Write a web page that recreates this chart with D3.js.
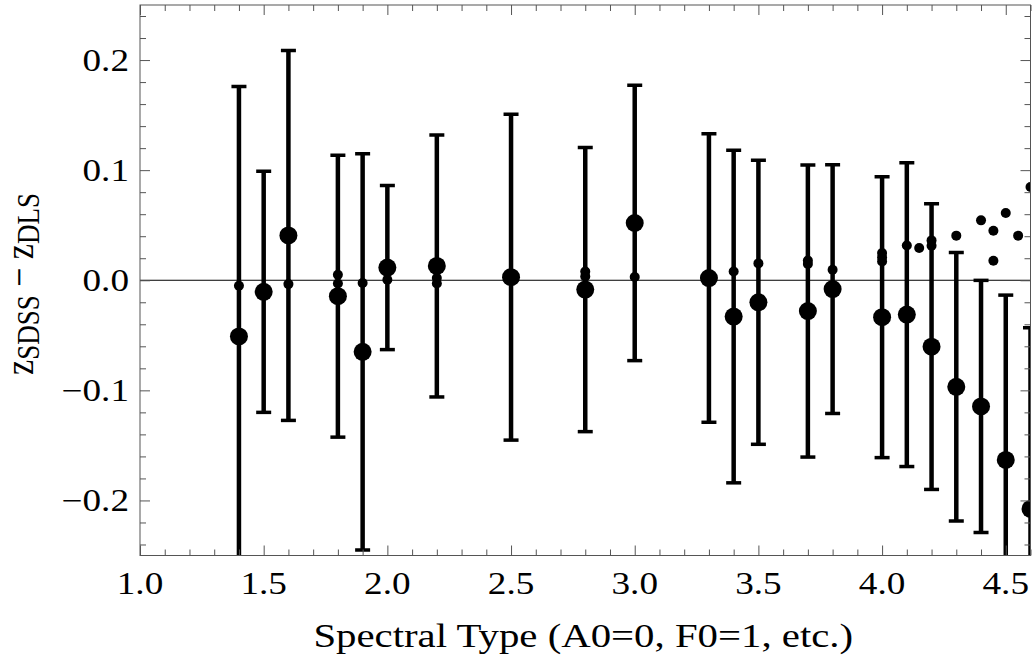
<!DOCTYPE html>
<html>
<head>
<meta charset="utf-8">
<script src="https://cdn.jsdelivr.net/npm/d3@7"></script>
<style>
  body { margin: 0; background: #fff; }
  svg { display: block; font-family: "Liberation Serif", "Times New Roman", serif; }
</style>
</head>
<body>
<div id="chart"></div>
<script>
// binned mean differences with error bars (big dots)
var specType = [1.4, 1.5, 1.6, 1.8, 1.9, 2.0, 2.2, 2.5, 2.8, 3.0, 3.3, 3.4, 3.5, 3.7, 3.8, 4.0, 4.1, 4.2, 4.3, 4.4, 4.5, 4.6];
var meanDiff = [-0.051, -0.0105, 0.0407, -0.0145, -0.065, 0.0115, 0.013, 0.0028, -0.0085, 0.052, 0.002, -0.033, -0.020, -0.028, -0.008, -0.0335, -0.0312, -0.0603, -0.0968, -0.1146, -0.1632, -0.2077];
var errDiff = [0.227, 0.1095, 0.168, 0.128, 0.180, 0.0745, 0.119, 0.148, 0.129, 0.125, 0.131, 0.151, 0.129, 0.1326, 0.113, 0.1276, 0.138, 0.1297, 0.1219, 0.1145, 0.1497, 0.1645];

// individual objects (small dots)
var singleType = [1.4, 1.6, 1.8, 1.8, 1.9, 2.0, 2.2, 2.2, 2.8, 2.8, 3.0, 3.4, 3.5, 3.7, 3.7, 3.8, 4.0, 4.0, 4.0, 4.1, 4.15, 4.2, 4.2, 4.3, 4.4, 4.45, 4.45, 4.5, 4.55, 4.6];
var singleDiff = [-0.005, -0.0035, 0.005, -0.003, -0.0025, 0.0005, 0.002, -0.003, 0.008, 0.0035, 0.003, 0.008, 0.0153, 0.018, 0.0147, 0.0095, 0.0247, 0.0207, 0.017, 0.0316, 0.0293, 0.0362, 0.0314, 0.0405, 0.0544, 0.045, 0.0177, 0.0611, 0.0405, 0.0847];

var xMajor = [1.0, 1.5, 2.0, 2.5, 3.0, 3.5, 4.0, 4.5];
var yMajor = [-0.2, -0.1, 0.0, 0.1, 0.2];

var W = 1032, H = 668;
var pLeft = 140, pRight = 1030.5, pTop = 5, pBottom = 555.5;
var stretch = 1.2; // reference text is wider than it is tall

var svg = d3.select("#chart").append("svg")
    .attr("width", W)
    .attr("height", H);

var x = d3.scaleLinear().domain([1, 4.6]).range([pLeft, pRight]);
var y = d3.scaleLinear().domain([-0.25, 0.25]).range([pBottom, pTop]);

// minor tick values
var xMinor = d3.range(10, 47).map(function(d) { return d / 10; })
    .filter(function(d) { return Math.abs(d * 2 - Math.round(d * 2)) > 1e-6; });
var yMinor = d3.range(-12, 13).map(function(d) { return d / 50; })
    .filter(function(d) { return Math.abs(d * 10 - Math.round(d * 10)) > 1e-6; });

svg.append("clipPath").attr("id", "plotclip")
  .append("rect")
    .attr("x", pLeft).attr("y", pTop)
    .attr("width", pRight - pLeft).attr("height", pBottom - pTop);

var plot = svg.append("g").attr("clip-path", "url(#plotclip)");

// zero line
plot.append("line")
    .attr("x1", pLeft).attr("x2", pRight)
    .attr("y1", y(0)).attr("y2", y(0))
    .attr("stroke", "#000").attr("stroke-width", 1);

// error bars
var bars = plot.selectAll(".ebar")
    .data(specType)
    .enter().append("g")
    .attr("class", "ebar");

bars.append("line")
    .attr("x1", function(d) { return x(d); })
    .attr("x2", function(d) { return x(d); })
    .attr("y1", function(d, i) { return y(meanDiff[i] + errDiff[i]); })
    .attr("y2", function(d, i) { return y(meanDiff[i] - errDiff[i]); })
    .attr("stroke", "#000").attr("stroke-width", 4.5);

[1, -1].forEach(function(s) {
  bars.append("line")
      .attr("x1", function(d) { return x(d) - 7.5; })
      .attr("x2", function(d) { return x(d) + 7.5; })
      .attr("y1", function(d, i) { return y(meanDiff[i] + s * errDiff[i]); })
      .attr("y2", function(d, i) { return y(meanDiff[i] + s * errDiff[i]); })
      .attr("stroke", "#000").attr("stroke-width", 3.5);
});

// big dots
plot.selectAll(".mean")
    .data(specType)
    .enter().append("circle")
    .attr("class", "mean")
    .attr("cx", function(d) { return x(d); })
    .attr("cy", function(d, i) { return y(meanDiff[i]); })
    .attr("r", 9)
    .attr("fill", "#000");

// small dots
plot.selectAll(".single")
    .data(singleType)
    .enter().append("circle")
    .attr("class", "single")
    .attr("cx", function(d) { return x(d); })
    .attr("cy", function(d, i) { return y(singleDiff[i]); })
    .attr("r", 5)
    .attr("fill", "#000");

// frame with inward ticks on all sides
var frameCol = "#555";
function styleAxis(g) {
  g.select(".domain").remove();
  g.selectAll(".tick line").attr("stroke", frameCol);
  g.selectAll("text").remove();
}

svg.append("g").attr("transform", "translate(0," + pBottom + ")")
    .call(d3.axisBottom(x).tickValues(xMajor).tickSize(-10)).call(styleAxis);
svg.append("g").attr("transform", "translate(0," + pBottom + ")")
    .call(d3.axisBottom(x).tickValues(xMinor).tickSize(-6)).call(styleAxis);
svg.append("g").attr("transform", "translate(0," + pTop + ")")
    .call(d3.axisTop(x).tickValues(xMajor).tickSize(-10)).call(styleAxis);
svg.append("g").attr("transform", "translate(0," + pTop + ")")
    .call(d3.axisTop(x).tickValues(xMinor).tickSize(-6)).call(styleAxis);
svg.append("g").attr("transform", "translate(" + pLeft + ",0)")
    .call(d3.axisLeft(y).tickValues(yMajor).tickSize(-10)).call(styleAxis);
svg.append("g").attr("transform", "translate(" + pLeft + ",0)")
    .call(d3.axisLeft(y).tickValues(yMinor).tickSize(-6)).call(styleAxis);
svg.append("g").attr("transform", "translate(" + pRight + ",0)")
    .call(d3.axisRight(y).tickValues(yMajor).tickSize(-10)).call(styleAxis);
svg.append("g").attr("transform", "translate(" + pRight + ",0)")
    .call(d3.axisRight(y).tickValues(yMinor).tickSize(-6)).call(styleAxis);

svg.append("rect")
    .attr("x", pLeft).attr("y", pTop)
    .attr("width", pRight - pLeft).attr("height", pBottom - pTop)
    .attr("fill", "none").attr("stroke", frameCol).attr("stroke-width", 1);

// tick labels
var fmt = function(v) { return d3.format(".1f")(v).replace("-", "\u2212"); };

svg.selectAll(".xlab")
    .data(xMajor)
    .enter().append("text")
    .attr("class", "xlab")
    .attr("transform", function(d) { return "translate(" + x(d) + ",594) scale(" + stretch + ",1)"; })
    .attr("text-anchor", "middle")
    .attr("font-size", 31)
    .attr("fill", "#000")
    .text(fmt);

svg.selectAll(".ylab")
    .data(yMajor)
    .enter().append("text")
    .attr("class", "ylab")
    .attr("transform", function(d) { return "translate(129," + (y(d) + 10.5) + ") scale(" + stretch + ",1)"; })
    .attr("text-anchor", "end")
    .attr("font-size", 31)
    .attr("fill", "#000")
    .text(fmt);

// axis titles
svg.append("text")
    .attr("transform", "translate(" + ((pLeft + pRight) / 2 - 2) + ",647) scale(" + stretch + ",1)")
    .attr("text-anchor", "middle")
    .attr("font-size", 34)
    .attr("fill", "#000")
    .text("Spectral Type (A0=0, F0=1, etc.)");

var ylab = svg.append("text")
    .attr("transform", "translate(33,284) scale(" + stretch + ",1) rotate(-90)")
    .attr("text-anchor", "middle")
    .attr("fill", "#000");
ylab.append("tspan").attr("font-size", 34).text("z");
ylab.append("tspan").attr("font-size", 27).attr("dy", 5).text("SDSS");
ylab.append("tspan").attr("font-size", 34).attr("dy", -5).text(" \u2212 z");
ylab.append("tspan").attr("font-size", 27).attr("dy", 5).text("DLS");
</script>
</body>
</html>
